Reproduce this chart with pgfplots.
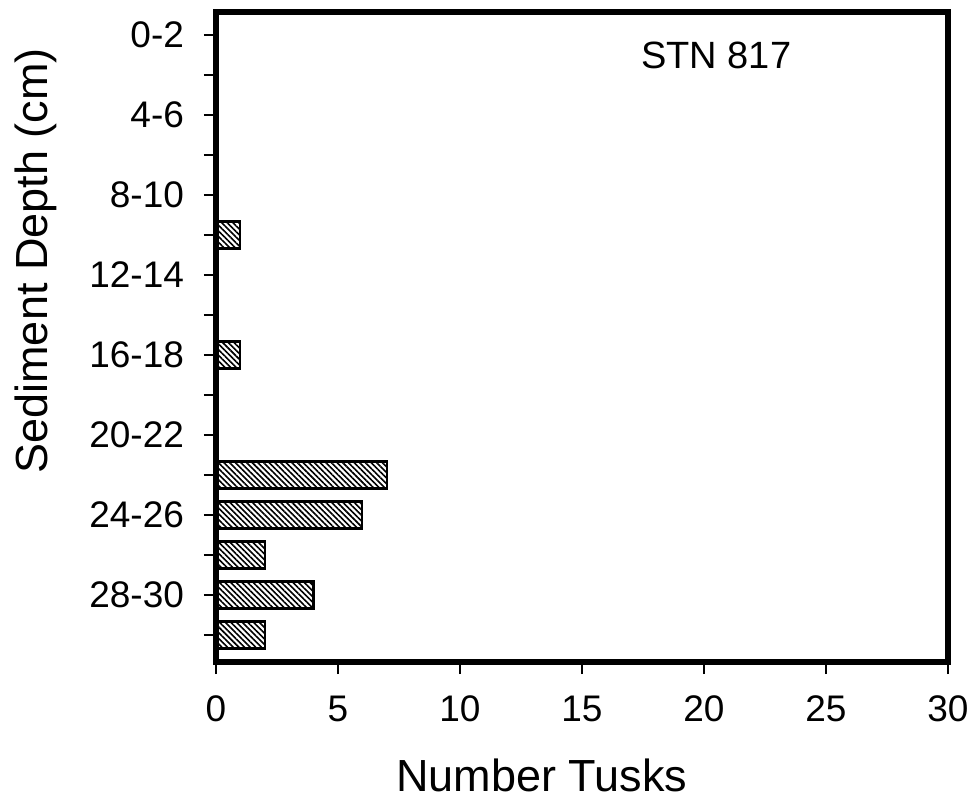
\documentclass[border=0pt]{standalone}
\usepackage{fontspec}
\setmainfont{Liberation Sans}
\usepackage{pgfplots}
\pgfplotsset{compat=1.18}
\usetikzlibrary{patterns.meta}
\begin{document}
\begin{tikzpicture}
\begin{axis}[
  scale only axis, width=366pt, height=325pt,
  xbar, bar width=13.5pt,
  xmin=0, xmax=30, ymin=-0.575, ymax=15.675, y dir=reverse,
  axis on top,
  axis line style={line width=2.6pt},
  xtick={0,5,...,30},
  ytick={0,2,...,14},
  yticklabels={0-2,4-6,8-10,12-14,16-18,20-22,24-26,28-30},
  minor ytick={1,3,...,15},
  tick align=outside, tick pos=left,
  major tick length=6pt, minor tick length=6pt,
  every tick/.style={black, line width=1.3pt},
  /pgf/number format/assume math mode=true,
  tick label style={font=\fontsize{18.5}{22}\selectfont},
  xticklabel style={yshift=-7.5pt},
  yticklabel style={xshift=-6.5pt},
  xlabel={Number Tusks},
  ylabel={Sediment Depth (cm)},
  xlabel style={at={(axis description cs:0.445,-0.174)}, anchor=center, font=\fontsize{22.5}{26}\selectfont},
  ylabel style={at={(axis description cs:-0.246,0.617)}, anchor=center, rotate=0, font=\fontsize{22.5}{26}\selectfont},
]
\addplot[draw=black, line width=1.1pt, pattern={Lines[angle=-45,distance=2pt,line width=0.8pt]}] coordinates {
(0,0) (0,1) (0,2) (0,3) (0,4) (1,5) (0,6) (0,7) (1,8) (0,9) (0,10) (7,11) (6,12) (2,13) (4,14) (2,15)
};
\node[font=\fontsize{19}{22}\selectfont] at (axis cs:20.5,0.5) {STN 817};
\end{axis}
\pgfresetboundingbox
\path[use as bounding box] ([xshift=-108pt,yshift=-74pt]current axis.south west) rectangle ([xshift=13pt,yshift=6pt]current axis.north east);
\end{tikzpicture}
\end{document}
